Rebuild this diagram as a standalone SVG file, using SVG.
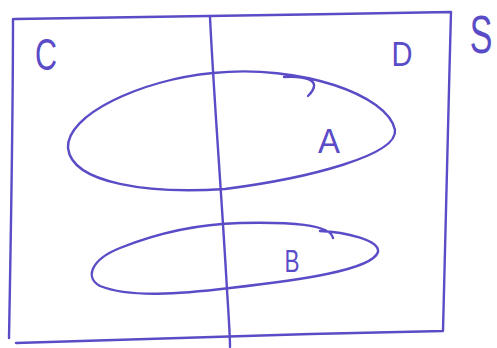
<svg xmlns="http://www.w3.org/2000/svg" width="497" height="348" viewBox="0 0 497 348">
<style>
.ln{fill:none;stroke:#5a4cc6;stroke-width:2.4;stroke-linecap:round;stroke-linejoin:round}
.lb{font-family:"Liberation Sans",Arial,sans-serif;fill:#5a4cc6;text-anchor:middle}
</style>
<rect width="497" height="348" fill="#fff"/>
<g id="S">
<path class="ln" d="M15 19 C120 17 300 15 451 12 C448 120 446 230 443 331 C300 334 150 338 16 343 M13 19 C13 120 11 230 9 338"/>
<text class="lb" x="0" y="0" font-size="40" transform="translate(481,53) scale(0.85,1.35)">S</text>
</g>
<g id="C">
<path class="ln" d="M210 17 C214 100 222 200 227 290 C229 320 230 335 230 347"/>
<text class="lb" x="46" y="70" font-size="44" textLength="22" lengthAdjust="spacingAndGlyphs">C</text>
<text class="lb" x="402" y="66" font-size="35" textLength="21" lengthAdjust="spacingAndGlyphs">D</text>
</g>
<g id="A">
<path class="ln" d="M284 77 C300 76 326 78 308 96 M213 73 C300 64 388 95 395 130 C398 155 310 178 225 189 C150 194 72 184 68 148 C66 115 140 80 213 73"/>
<text class="lb" x="329" y="153" font-size="35" textLength="22" lengthAdjust="spacingAndGlyphs">A</text>
</g>
<g id="B">
<path class="ln" d="M320 231 C345 232 380 240 378 252 C372 270 300 280 230 288 C180 294 130 298 100 286 C85 278 90 260 120 248 C160 232 200 224 240 223 C290 222 330 224 333 238"/>
<text class="lb" x="292" y="272" font-size="31" textLength="15" lengthAdjust="spacingAndGlyphs">B</text>
</g>
<g id="connectors"></g>
</svg>
